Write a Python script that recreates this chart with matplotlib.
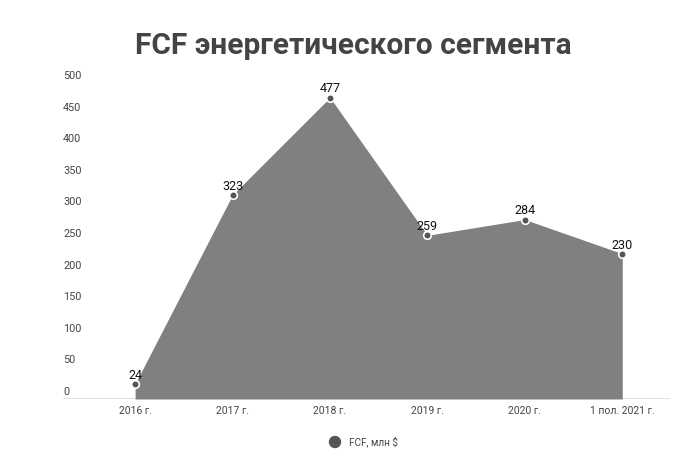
import matplotlib
matplotlib.use("Agg")
import matplotlib.pyplot as plt
from matplotlib.patches import Ellipse
from matplotlib.transforms import blended_transform_factory

plt.rcParams['font.family'] = ['Roboto', 'DejaVu Sans']

categories = ["2016 г.", "2017 г.", "2018 г.", "2019 г.", "2020 г.", "1 пол. 2021 г."]
values = [24, 323, 477, 259, 284, 230]
y_ticks = [0, 50, 100, 150, 200, 250, 300, 350, 400, 450, 500]
title = "FCF энергетического сегмента"
series_name = "FCF, млн $"

W, H = 692, 455
fig = plt.figure(figsize=(W / 100, H / 100), dpi=100)
ax = fig.add_axes([63 / W, 1 - 399 / H, 607 / W, 316 / H])

x = list(range(len(categories)))
ax.fill_between(x, values, 0, color="#808080", linewidth=0, zorder=2)
ax.scatter(x, values, s=30, color="#555555", edgecolor="white", linewidth=1.2, zorder=4, clip_on=False)
for xi, v in zip(x, values):
    ax.annotate(str(v), (xi, v), xytext=(0, 1.5), textcoords="offset points",
                ha="center", va="bottom", fontsize=9, color="#111111", zorder=5)

ax.set_xlim(-0.74, 5.49)
ax.set_ylim(0, 500)
for s in ax.spines.values():
    s.set_visible(False)
ax.axhline(0, color="#dddddd", linewidth=2, zorder=1)
ax.set_yticks([])
ax.set_xticks(x)
ax.set_xticklabels(categories, fontsize=7.5, color="#444444")
ax.tick_params(axis="x", length=0, pad=5)

tr = blended_transform_factory(ax.transAxes, ax.transData)
for t in y_ticks:
    ax.text(0.0, t + 11, str(t), transform=tr, ha="left", va="center",
            fontsize=7.8, color="#444444")

fig.text(353 / W, 1 - 46 / H, title, ha="center", va="center",
         fontsize=21.5, fontweight="bold", color="#444444")

fig.add_artist(Ellipse((335 / W, 1 - 442 / H), 11 / W, 11 / H,
                       transform=fig.transFigure, color="#555555"))
fig.text(349 / W, 1 - 442 / H, series_name, ha="left", va="center", fontsize=7.2, color="#444444")

fig.savefig("out.png", dpi=100, facecolor="white")
